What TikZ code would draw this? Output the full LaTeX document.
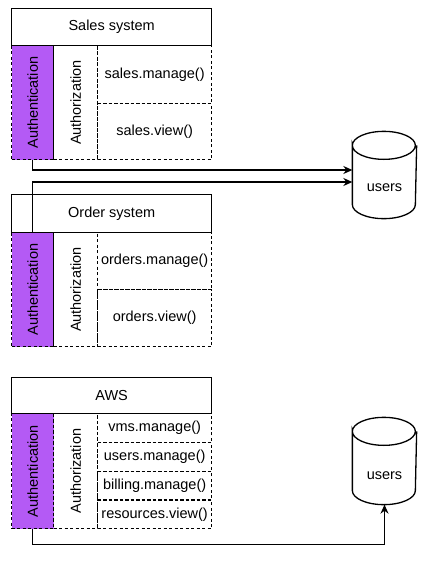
\documentclass[tikz,border=0pt]{standalone}
\usepackage{fontspec}
\setmainfont{Liberation Sans}
\usetikzlibrary{arrows.meta}
\definecolor{authpurple}{RGB}{180,90,245}
% cylinder drawn round a named node
\newcommand{\dbcyl}[1]{%
  \draw ([yshift=-14pt]#1.north west)
    arc [start angle=180, end angle=-180, x radius=31.5pt, y radius=14pt]
    -- ([yshift=14pt]#1.south west)
    arc [start angle=180, end angle=360, x radius=31.5pt, y radius=14pt]
    -- ([yshift=-14pt]#1.north east);}

\begin{document}
\begin{tikzpicture}[x=1pt, y=-1pt, line width=1.3pt,
  font=\fontsize{14.5}{17}\selectfont,
  every node/.style={inner sep=0pt, anchor=north west},
  titlebox/.style={draw, minimum width=200pt},
  dashbox/.style={draw, dash pattern=on 3pt off 2.5pt},
  authbox/.style={dashbox, fill=authpurple, minimum width=42pt},
  authzbox/.style={dashbox, minimum width=44pt},
  callbox/.style={dashbox, minimum width=114pt},
  dbase/.style={minimum width=63pt, minimum height=86pt, anchor=center},
  arr/.style={-{Stealth[length=9pt, width=8pt]}}]
\useasboundingbox (0,0) rectangle (428,563);
%\draw[help lines] (0,0) grid[step=20pt] (428,563);

% sales system
\node [titlebox, minimum height=37pt] (stitle) at (11,8) {Sales system};
\node [authbox, minimum height=114pt] (sauth) at (11,45) {};
\node [rotate=90, anchor=center] at (sauth.center) {Authentication};
\node [authzbox, minimum height=114pt] (sauthz) at (53,45) {};
\node [rotate=90, anchor=center] at (sauthz.center) {Authorization};
\node [callbox, minimum height=58pt] (smanage) at (97,45) {sales.manage()};
\node [callbox, minimum height=56pt] (sview) at (97,103) {sales.view()};

% order system
\node [titlebox, minimum height=38pt] (otitle) at (11,194) {Order system};
\node [authbox, minimum height=114pt] (oauth) at (11,232) {};
\node [rotate=90, anchor=center] at (oauth.center) {Authentication};
\node [authzbox, minimum height=114pt] (oauthz) at (53,232) {};
\node [rotate=90, anchor=center] at (oauthz.center) {Authorization};
\node [callbox, minimum height=57pt] (omanage) at (97,232) {orders.manage()};
\node [callbox, minimum height=57pt] (oview) at (97,289) {orders.view()};

% aws
\node [titlebox, minimum height=36pt] (atitle) at (11,377) {AWS};
\node [authbox, minimum height=115pt] (aauth) at (11,413) {};
\node [rotate=90, anchor=center] at (aauth.center) {Authentication};
\node [authzbox, minimum height=115pt] (aauthz) at (53,413) {};
\node [rotate=90, anchor=center] at (aauthz.center) {Authorization};
\node [callbox, minimum height=28.75pt] (avms) at (97,413) {vms.manage()};
\node [callbox, minimum height=28.75pt] (ausers) at (97,441.75) {users.manage()};
\node [callbox, minimum height=28.75pt] (abilling) at (97,470.5) {billing.manage()};
\node [callbox, minimum height=28.75pt] (aresources) at (97,499.25) {resources.view()};

% user stores
\node [dbase] (users1) at (384.5,175) {};
\dbcyl{users1}
\node [anchor=center] (users1txt) at ([yshift=-13pt]users1.center) {users};
\node [dbase] (users2) at (384.5,461) {};
\dbcyl{users2}
\node [anchor=center] (users2txt) at ([yshift=-15pt]users2.center) {users};

\draw [arr] (sauth.south) |- ([yshift=5pt]users1.west);
\draw [arr] (oauth.north) |- ([yshift=-7pt]users1.west);
\draw [arr] (aauth.south) -- ++(0,15) -| (users2.south);
\end{tikzpicture}
\end{document}
